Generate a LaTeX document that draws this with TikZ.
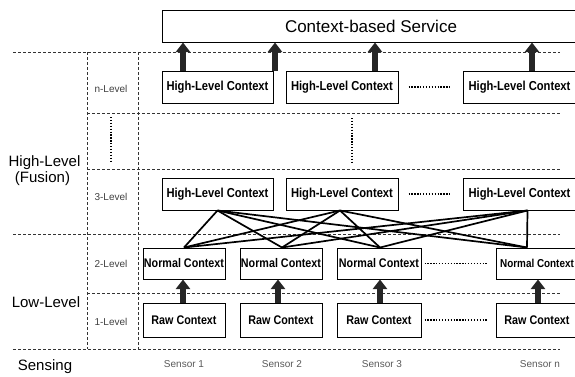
\documentclass[tikz,border=0pt]{standalone}
\usepackage{fontspec}
\setmainfont{Liberation Sans}
\newfontfamily\boxfont[FakeStretch=0.86]{Liberation Sans}
\usetikzlibrary{arrows.meta,calc}
\begin{document}
\begin{tikzpicture}[x=1pt,y=-1pt,
  box/.style={draw=black, line width=1pt, fill=white, inner sep=0pt, font=\boxfont\bfseries\fontsize{12.5}{14}\selectfont},
  hlbox/.style={box, font=\boxfont\bfseries\fontsize{13}{15}\selectfont, minimum height=32pt},
  grid/.style={draw=black!80, line width=0.8pt, dash pattern=on 3pt off 2pt},
  dots/.style={draw=black, line width=1.3pt, dash pattern=on 1.3pt off 1.6pt},
  fat/.style={draw=black!85, line width=6.5pt, -{Triangle[width=14pt,length=9.5pt]}},
  link/.style={draw=black, line width=1.7pt},
  side/.style={font=\fontsize{15}{17}\selectfont},
  lvl/.style={font=\fontsize{10}{12}\selectfont, text=black!75},
  sensor/.style={font=\fontsize{10}{12}\selectfont, text=black!65}
]
\useasboundingbox (0,0) rectangle (575,376);
\clip (0,0) rectangle (575,376);

% grid
\draw[grid] (13,52) -- (560,52);
\draw[grid] (87,113) -- (560,113);
\draw[grid] (87,169) -- (560,169);
\draw[grid] (13,234) -- (560,234);
\draw[grid] (87,293) -- (560,293);
\draw[grid] (13,349) -- (560,349);
\draw[grid] (87,52) -- (87,349);
\draw[grid] (138,52) -- (138,349);

% service
\node[box, font=\fontsize{17}{20}\selectfont, minimum width=418pt, minimum height=32pt] (svc) at (371,26) {Context-based Service};

% n-level
\node[hlbox, minimum width=111pt] (hn1) at (217.5,87) {High-Level Context};
\node[hlbox, minimum width=112pt] (hn2) at (342,87) {High-Level Context};
\node[hlbox, minimum width=113pt] (hn3) at (519.5,87) {High-Level Context};

% 3-level
\node[hlbox, minimum width=111pt] (h1) at (217.5,194) {High-Level Context};
\node[hlbox, minimum width=112pt] (h2) at (342,194) {High-Level Context};
\node[hlbox, minimum width=113pt] (h3) at (519.5,194) {High-Level Context};

% 2-level
\node[box, minimum width=82pt, minimum height=31pt] (n1) at (184,263.5) {Normal Context};
\node[box, minimum width=82pt, minimum height=31pt] (n2) at (281,263.5) {Normal Context};
\node[box, minimum width=84pt, minimum height=31pt] (n3) at (379,263.5) {Normal Context};
\node[box, font=\boxfont\bfseries\fontsize{11.5}{13}\selectfont, minimum width=82pt, minimum height=31pt] (n4) at (537,263.5) {Normal Context};

% 1-level
\node[box, minimum width=82pt, minimum height=34pt] (r1) at (184,320) {Raw Context};
\node[box, minimum width=82pt, minimum height=34pt] (r2) at (281,320) {Raw Context};
\node[box, minimum width=84pt, minimum height=34pt] (r3) at (379,320) {Raw Context};
\node[box, minimum width=82pt, minimum height=34pt] (r4) at (537,320) {Raw Context};

% dotted
\draw[dots] ([xshift=10pt]hn2.east) -- ([xshift=-11pt]hn3.west);
\draw[dots] ([xshift=10pt]h2.east) -- ([xshift=-11pt]h3.west);
\draw[dots] ([xshift=3pt]n3.east) -- ([xshift=-9pt]n4.west);
\draw[dots] ([xshift=3pt]r3.east) -- ([xshift=-9pt]r4.west);
\draw[dots] (111,117) -- (111,163);
\draw[dots] (352,118) -- (352,163);

% fusion links
\coordinate (a1) at (h1.south);
\coordinate (a2) at ($(h2.south)+(-2,0)$);
\coordinate (a3) at ($(h3.south)+(8,0)$);
\coordinate (b1) at (n1.north);
\coordinate (b2) at ($(n2.north)+(1,0)$);
\coordinate (b3) at ($(n3.north)+(1,0)$);
\coordinate (b4) at ($(n4.north)+(-10,0)$);
\foreach \a in {a1,a2,a3}{
  \foreach \b in {b1,b2,b3,b4}{
    \draw[link] (\a) -- (\b);
  }
}

% arrows to service
\coordinate (k1) at (183,0);
\coordinate (k2) at (275,0);
\coordinate (k3) at (375,0);
\coordinate (k4) at (532,0);
\draw[fat] (k1 |- hn1.north) -- (k1 |- svc.south);
\draw[fat] (k2 |- hn1.north) -- (k2 |- svc.south);
\draw[fat] (k3 |- hn2.north) -- (k3 |- svc.south);
\draw[fat] (k4 |- hn3.north) -- (k4 |- svc.south);

% arrows raw -> normal
\draw[fat] ([xshift=-1pt]r1.north) -- ([xshift=-1pt]n1.south);
\draw[fat] ([xshift=-3pt]r2.north) -- ([xshift=-3pt]n2.south);
\draw[fat] ([xshift=1pt]r3.north) -- ([xshift=1pt]n3.south);
\draw[fat] ([xshift=1pt]r4.north) -- ([xshift=1pt]n4.south);

% labels
\node[side] (lh1) at (44.5,163) {High-Level};
\node[side] (lh2) at (42.5,179) {(Fusion)};
\node[side] (ll) at (46,302) {Low-Level};
\node[side] (ls) at (45,367) {Sensing};
\node[lvl] (l1) at (111,89) {n-Level};
\node[lvl] (l3) at (111,197) {3-Level};
\node[lvl] (l2) at (111,264) {2-Level};
\node[lvl] (l0) at (111,322) {1-Level};
\node[sensor] (s1) at (184,364) {Sensor 1};
\node[sensor] (s2) at (282,364) {Sensor 2};
\node[sensor] (s3) at (382,364) {Sensor 3};
\node[sensor] (s4) at (540,364) {Sensor n};
\end{tikzpicture}
\end{document}
